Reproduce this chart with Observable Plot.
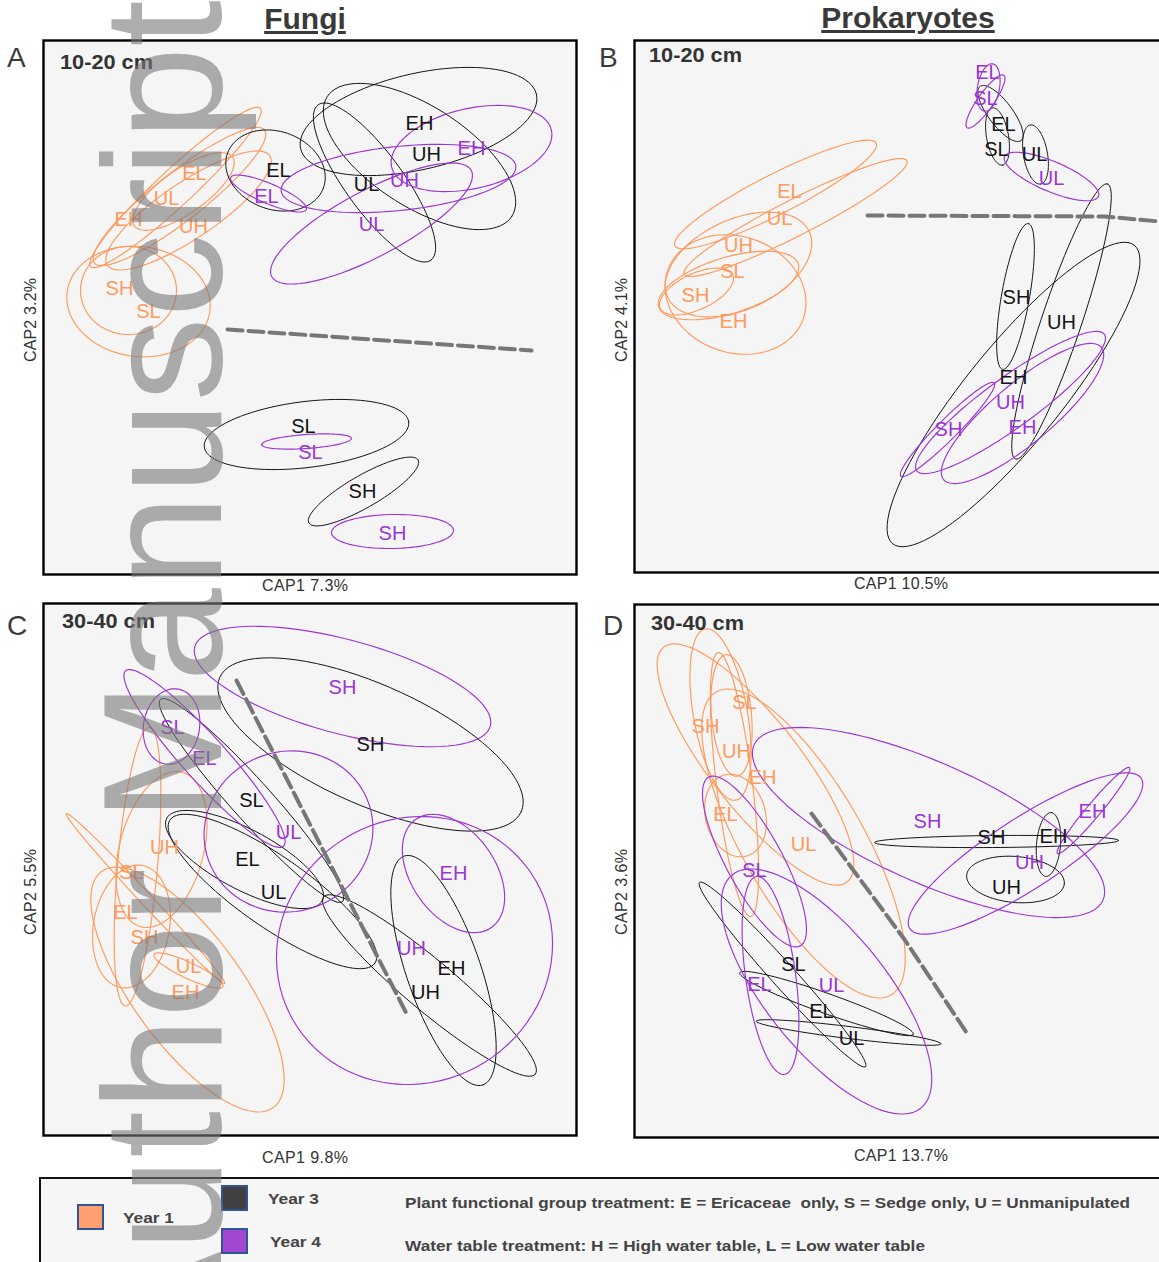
<!DOCTYPE html>
<html><head><meta charset="utf-8">
<script src="https://cdn.jsdelivr.net/npm/d3@7"></script>
<script src="https://cdn.jsdelivr.net/npm/@observablehq/plot@0.6"></script>
<style>
html,body{margin:0;padding:0;background:#fff;}
#root{position:relative;width:1159px;height:1262px;overflow:hidden;background:#fff;font-family:"Liberation Sans",Arial,Helvetica,sans-serif;}
.panel{position:absolute;}
#overlay{position:absolute;left:0;top:0;pointer-events:none;}
</style></head><body><div id="root"></div>
<script>
// ---------- data: ellipses [cx, cy, semiMajor, semiMinor, angleDeg] in CAP score units ----------
const years = ["Year 1", "Year 3", "Year 4"];
const yearColors = ["#ff995c", "#141414", "#9b35d5"];

// Panel A: Fungi 10-20 cm
const fungiTop_y1 = [[132,387,116,18,43],[136,378,108,24,38],[145,364,98,28,34],[140,383,60,22,35],[95,273,72,55,-8],[85,284,48,44,0]];
const fungiTop_y3 = [[232,404,51,39,-20],[375,453,121,48,13],[376,418,110,50,-33],[331,392,96,29,-54],[263,140,103,33,7],[320,83,63,16,30]];
const fungiTop_y4 = [[225,381,41,10,-23],[428,426,82,40,13],[355,396,118,32,6],[328,351,113,33,28],[263,133,45,7,4],[349,43,61,17,1]];
const fungiTop_lab1 = [["EL",151,401],["UL",123,376],["EH",85,355],["UH",150,348],["SH",76,286],["SL",105,263]];
const fungiTop_lab3 = [["EH",376,451],["UH",383,420],["EL",235,404],["UL",323,390],["SL",260,148],["SH",319,83]];
const fungiTop_lab4 = [["EH",428,426],["UH",361,394],["EL",223,378],["UL",328,350],["SL",267,122],["SH",349,41]];
const fungiTop_split = [[184,245],[488,224]];

// Panel B: Prokaryotes 10-20 cm
const prokTop_y1 = [[141,378,113,20,27],[161,355,125,18,27],[104,308,78,45,25],[101,278,72,58,-20],[94,287,73,28,17],[62,281,40,18,25]];
const prokTop_y3 = [[366,459,34,12,-53],[363,436,29,11,-80],[401,418,30,12,-80],[381,276,74,14,80],[427,251,145,20,71.5],[379,178,192,48,51]];
const prokTop_y4 = [[354,485,24,11,80],[351,471,32,8,55],[417,396,51,15,-23],[313,143,66,10,45],[376,170,116,25,36],[388,159,103,30,40]];
const prokTop_lab1 = [["EL",155,381],["UL",145,354],["UH",104,327],["SL",98,301],["SH",61,277],["EH",99,251]];
const prokTop_lab3 = [["EL",369,448],["SL",362,423],["UL",400,418],["SH",382,275],["UH",427,250],["EH",379,195]];
const prokTop_lab4 = [["EL",353,500],["SL",351,474],["UL",417,394],["UH",376,170],["SH",314,143],["EH",388,145]];
const prokTop_split = [[233,357],[470,356],[525,351]];

// Panel C: Fungi 30-40 cm
const fungiDeep_y1 = [[102,237,116,6,-47],[144,146,146,55,-54],[94,269,140,20,85],[118,286,80,42,75],[88,209,62,38,80],[145,165,38,8,-25]];
const fungiDeep_y3 = [[327,391,165,60,-24],[208,335,136,20,-48],[201,276,88,30,-28],[229,244,125,35,-35],[386,150,138,25,-40],[400,165,121,37,-71]];
const fungiDeep_y4 = [[299,449,153,47,-15],[128,409,38,28,80],[161,377,118,22,-48],[245,304,85,80,20],[410,262,66,42,-55],[371,185,140,132,30]];
const fungiDeep_lab1 = [["UH",121,288],["SL",88,263],["EL",82,223],["SH",101,198],["UL",145,169],["EH",142,143]];
const fungiDeep_lab3 = [["SH",327,391],["SL",208,335],["EL",204,276],["UL",230,243],["UH",382,143],["EH",408,167]];
const fungiDeep_lab4 = [["SH",299,448],["SL",129,408],["EL",161,377],["UL",245,303],["EH",410,262],["UH",368,187]];
const fungiDeep_split = [[193,455],[364,120]];

// Panel D: Prokaryotes 30-40 cm
const prokDeep_y1 = [[121,373,149,45,-52],[169,294,175,60,-60],[86,423,87,27,-80],[100,353,133,18,-83],[97,422,61,20,-85],[101,322,42,30,-75]];
const prokDeep_y3 = [[362,296,122,6,0.5],[414,293,32,12,85],[381,258,49,23,-5],[148,163,124,12,-48],[192,134,92,10,-19.5],[214,105,93,6,-7]];
const prokDeep_y4 = [[294,315,191,60,-24],[391,284,138,35,33],[459,327,56,7,50],[120,276,96,28,-61.5],[136,162,100,25,-82],[192,146,150,60,-51]];
const prokDeep_lab1 = [["SL",110,435],["SH",71,411],["UH",102,386],["EH",128,360],["EL",91,323],["UL",169,293]];
const prokDeep_lab3 = [["SH",357,300],["EH",419,301],["UH",372,250],["SL",159,173],["EL",187,126],["UL",217,99]];
const prokDeep_lab4 = [["SH",293,316],["EH",458,326],["UH",395,275],["SL",120,267],["EL",125,153],["UL",197,152]];
const prokDeep_split = [[177,324],[270,198],[334,102]];

// ---------- build ----------
const panels = [
  {left:43, top:40, w:533, h:534, ell:[fungiTop_y1,fungiTop_y3,fungiTop_y4], lab:[fungiTop_lab1,fungiTop_lab3,fungiTop_lab4], split:fungiTop_split},
  {left:634, top:40, w:533, h:532, ell:[prokTop_y1,prokTop_y3,prokTop_y4], lab:[prokTop_lab1,prokTop_lab3,prokTop_lab4], split:prokTop_split},
  {left:43, top:603, w:533, h:532, ell:[fungiDeep_y1,fungiDeep_y3,fungiDeep_y4], lab:[fungiDeep_lab1,fungiDeep_lab3,fungiDeep_lab4], split:fungiDeep_split},
  {left:634, top:604, w:533, h:533, ell:[prokDeep_y1,prokDeep_y3,prokDeep_y4], lab:[prokDeep_lab1,prokDeep_lab3,prokDeep_lab4], split:prokDeep_split}
];

function outline(list){
  const rows = [];
  list.forEach((e, k) => {
    const [cx, cy, a, b, ang] = e;
    const th = ang * Math.PI / 180;
    for (let i = 0; i <= 90; i++) {
      const t = i / 90 * 2 * Math.PI;
      rows.push({id:k,
        x: cx + a*Math.cos(th)*Math.cos(t) - b*Math.sin(th)*Math.sin(t),
        y: cy + a*Math.sin(th)*Math.cos(t) + b*Math.cos(th)*Math.sin(t)});
    }
  });
  return rows;
}

const root = document.getElementById("root");
for (const p of panels) {
  const marks = [Plot.frame({fill:"#f5f5f5"})];
  [0,1,2].forEach(i => {
    marks.push(Plot.line(outline(p.ell[i]), {x:"x", y:"y", z:"id", stroke:yearColors[i], strokeWidth: i===1 ? 1.0 : 1.15, clip:true}));
  });
  marks.push(Plot.line(p.split, {x:d=>d[0], y:d=>d[1], stroke:"#777", strokeWidth:4, strokeDasharray:"15,6"}));
  [0,1,2].forEach(i => {
    marks.push(Plot.text(p.lab[i], {x:d=>d[1], y:d=>d[2], text:d=>d[0], fill:yearColors[i], fontSize:20}));
  });
  marks.push(Plot.frame({stroke:"#000", strokeWidth:2.4}));
  const chart = Plot.plot({
    width: p.w + 2, height: p.h + 2, margin: 1,
    x: {domain:[0, p.w], axis:null}, y: {domain:[0, p.h], axis:null},
    style: {background:"transparent", overflow:"visible", maxWidth:"none", fontFamily:"'Liberation Sans', Arial, Helvetica, sans-serif"},
    marks
  });
  const div = document.createElement("div");
  div.className = "panel";
  div.style.left = (p.left - 1) + "px";
  div.style.top = (p.top - 1) + "px";
  div.style.width = (p.w + 2) + "px";
  div.appendChild(chart);
  root.appendChild(div);
}

// ---------- static text, legend, watermark ----------
const titles = [["Fungi",305,29],["Prokaryotes",908,28]];
const panelLetters = [["A",7,67],["B",599,67],["C",7,635],["D",603,635]];
const depthLabels = [["10-20 cm",60,69],["10-20 cm",649,62],["30-40 cm",62,628],["30-40 cm",651,630]];
const xLabels = [["CAP1 7.3%",305,591,86],["CAP1 10.5%",901,589,94],["CAP1 9.8%",305,1163,86],["CAP1 13.7%",901,1161,94]];
const yLabels = [["CAP2 3.2%",36,320,84],["CAP2 4.1%",627,320,84],["CAP2 5.5%",36,892,86],["CAP2 3.6%",627,892,86]];
const legendYears = [["Year 1",78,1205,123,1223],["Year 3",222,1186,268,1204],["Year 4",222,1229,270,1247]];
const legendSwatch = ["#ffa071","#404040","#a447d0"];
const legendNotes = [["Plant functional group treatment: E = Ericaceae  only, S = Sedge only, U = Unmanipulated",405,1208,725],["Water table treatment: H = High water table, L = Low water table",405,1251,520]];

let s = `<svg id="overlay" width="1159" height="1262" xmlns="http://www.w3.org/2000/svg" font-family="'Liberation Sans', Arial, Helvetica, sans-serif">`;
for (const [t,x,y] of titles) s += `<text x="${x}" y="${y}" text-anchor="middle" font-size="30" font-weight="bold" fill="#3a3a3a" text-decoration="underline">${t}</text>`;
for (const [t,x,y] of panelLetters) s += `<text x="${x}" y="${y}" font-size="28" fill="#3a3a3a">${t}</text>`;
for (const [t,x,y] of depthLabels) s += `<text x="${x}" y="${y}" font-size="20" font-weight="bold" fill="#333" textLength="93" lengthAdjust="spacingAndGlyphs">${t}</text>`;
for (const [t,x,y,L] of xLabels) s += `<text x="${x}" y="${y}" text-anchor="middle" font-size="16" fill="#333" textLength="${L}" lengthAdjust="spacing">${t}</text>`;
for (const [t,x,y,L] of yLabels) s += `<text transform="translate(${x},${y}) rotate(-90)" text-anchor="middle" font-size="16" fill="#333" textLength="${L}" lengthAdjust="spacing">${t}</text>`;
// legend box
s += `<rect x="40" y="1178" width="1140" height="110" fill="#f6f6f6" stroke="#111" stroke-width="2"/>`;
legendYears.forEach(([t,rx,ry,tx,ty],i) => {
  s += `<rect x="${rx}" y="${ry}" width="25" height="24" fill="${legendSwatch[i]}" stroke="#2f5597" stroke-width="2"/>`;
  s += `<text x="${tx}" y="${ty}" font-size="15" font-weight="bold" fill="#444" textLength="51" lengthAdjust="spacingAndGlyphs">${t}</text>`;
});
for (const [t,x,y,L] of legendNotes) s += `<text x="${x}" y="${y}" font-size="15" font-weight="bold" fill="#444" textLength="${L}" lengthAdjust="spacingAndGlyphs" xml:space="preserve">${t}</text>`;
// watermark
s += `<text transform="translate(221,0) rotate(-90)" text-anchor="end" font-size="168" fill="rgb(120,120,120)" fill-opacity="0.6">Author Manuscript</text>`;
s += `</svg>`;
root.insertAdjacentHTML("beforeend", s);
</script></body></html>
